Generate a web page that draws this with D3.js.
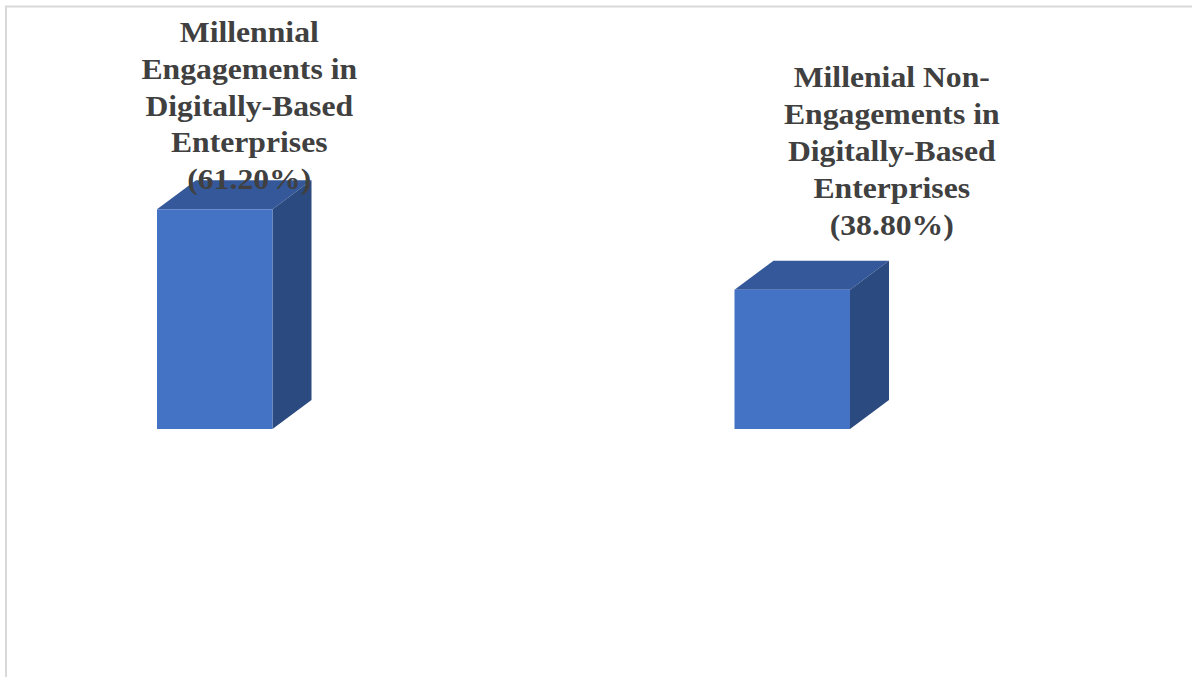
<!DOCTYPE html>
<html>
<head>
<meta charset="utf-8">
<script src="https://cdn.jsdelivr.net/npm/d3@7"></script>
<style>
  html, body { margin: 0; padding: 0; background: #fff; }
  svg { display: block; }
</style>
</head>
<body>
<svg id="chart" width="1192" height="677"></svg>
<script>
// ---- data ----
const categories = [
  "Millennial Engagements in Digitally-Based Enterprises",
  "Millenial Non-Engagements in Digitally-Based Enterprises"
];
const values = [61.2, 38.8];
const labelLines = [
  ["Millennial", "Engagements in", "Digitally-Based", "Enterprises", "(61.20%)"],
  ["Millenial Non-", "Engagements in", "Digitally-Based", "Enterprises", "(38.80%)"]
];

// ---- layout ----
const W = 1192, H = 677;
const depthX = 39, depthY = 29;
const labelOffsetX = [34.5, 99.5];
const labelGap = [20, 55];
const lineHeight = 36.8;
const fontSize = 29;
const stretchX = 1.093;

const svg = d3.select("#chart");

// outer frame
svg.append("rect")
  .attr("x", 6).attr("y", 6.5)
  .attr("width", W + 20).attr("height", H + 20)
  .attr("fill", "#fff")
  .attr("stroke", "#d9d9d9").attr("stroke-width", 2);

const x = d3.scaleBand()
  .domain(categories)
  .range([-74, 1081])
  .paddingInner(0.8)
  .paddingOuter(0.4);

const y = d3.scaleLinear()
  .domain([0, 70])
  .range([429, 177.7]);

const bars = svg.append("g").selectAll("g")
  .data(categories.map((c, i) => ({ c, v: values[i], i })))
  .join("g");

// top face
bars.append("path")
  .attr("fill", "#34589a")
  .attr("d", d => {
    const x0 = x(d.c), x1 = x0 + x.bandwidth(), yt = y(d.v);
    return `M${x0},${yt}L${x0 + depthX},${yt - depthY}L${x1 + depthX},${yt - depthY}L${x1},${yt}Z`;
  });

// side face
bars.append("path")
  .attr("fill", "#2b4a7f")
  .attr("d", d => {
    const x1 = x(d.c) + x.bandwidth(), yt = y(d.v), yb = y(0);
    return `M${x1},${yt}L${x1 + depthX},${yt - depthY}L${x1 + depthX},${yb - depthY}L${x1},${yb}Z`;
  });

// front face
bars.append("rect")
  .attr("fill", "#4472c4")
  .attr("x", d => x(d.c))
  .attr("y", d => y(d.v))
  .attr("width", x.bandwidth())
  .attr("height", d => y(0) - y(d.v));

// labels
bars.append("text")
  .style("font-family", '"Liberation Serif", "Times New Roman", serif')
  .style("font-weight", "bold")
  .style("font-size", fontSize + "px")
  .attr("fill", "#404040")
  .attr("text-anchor", "middle")
  .attr("transform", d => {
    const cx = x(d.c) + x.bandwidth() / 2 + labelOffsetX[d.i];
    return `translate(${cx},0) scale(${stretchX},1)`;
  })
  .each(function (d) {
    const lines = labelLines[d.i];
    const lastBase = y(d.v) - labelGap[d.i];
    const t = d3.select(this);
    lines.forEach((ln, k) => {
      t.append("tspan")
        .attr("x", 0)
        .attr("y", lastBase - (lines.length - 1 - k) * lineHeight)
        .text(ln);
    });
  });
</script>
</body>
</html>
